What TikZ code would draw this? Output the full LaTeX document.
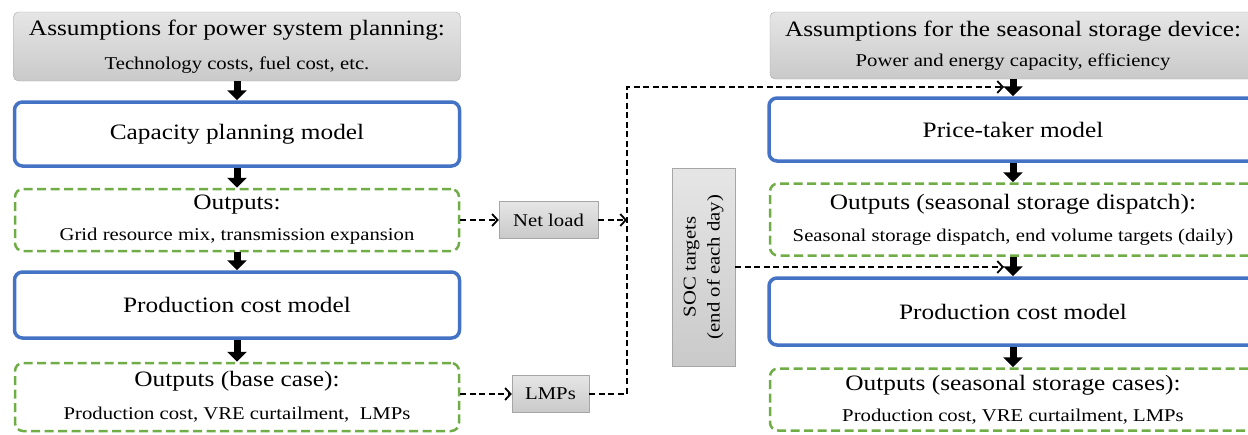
\documentclass[tikz,border=0pt]{standalone}
\usepackage{fontspec}
\setmainfont[FakeStretch=1.15]{Liberation Serif}
\usetikzlibrary{arrows.meta}

\definecolor{planblue}{HTML}{4472C4}
\definecolor{outgreen}{HTML}{70AD47}
\definecolor{boxgray}{HTML}{A6A6A6}

\newcommand{\bigtxt}{\fontsize{22}{26}\selectfont}
\newcommand{\subtxt}{\fontsize{18}{21}\selectfont}
\newcommand{\tagtxt}{\fontsize{18}{24}\selectfont}

\tikzset{
  assume/.style={draw=boxgray, rounded corners=5pt, top color=gray!20, bottom color=gray!42, align=center},
  model/.style={draw=planblue, line width=3.5pt, rounded corners=8pt, fill=white, font=\bigtxt},
  outbox/.style={draw=outgreen, line width=2.5pt, dash pattern=on 9pt off 4.5pt, rounded corners=8pt, align=center},
  tag/.style={draw=boxgray, top color=gray!20, bottom color=gray!42, font=\tagtxt, align=center},
  blk/.style={line width=7pt, -{Triangle[length=10pt,width=19pt]}},
  link/.style={line width=1.8pt, dash pattern=on 6pt off 3.5pt},
  tip/.style={-{Straight Barb[length=5.5pt,width=12pt]}},
}

\begin{document}
\begin{tikzpicture}[x=1pt,y=-1pt]

\useasboundingbox (0,0) rectangle (1248,434);
\clip (0,0) rectangle (1248,434);

% Power system planning
\node[assume, minimum width=447pt, minimum height=69pt] (asl) at (237,46.5)
  {\bigtxt Assumptions for power system planning:\\[16pt]\subtxt Technology costs, fuel cost, etc.};
\node[model, minimum width=445pt, minimum height=64pt] (cap) at (237,134) {Capacity planning model};
\node[outbox, minimum width=444pt, minimum height=62pt] (outl) at (237,220)
  {\bigtxt Outputs:\\[13pt]\subtxt Grid resource mix, transmission expansion};
\node[model, minimum width=445pt, minimum height=66pt] (pcl) at (237,305) {Production cost model};
\node[outbox, minimum width=444pt, minimum height=68pt] (base) at (237,397)
  {\bigtxt Outputs (base case):\\[15pt]\subtxt Production cost, VRE curtailment, \ LMPs};

\draw[blk] (asl) -- (cap);
\draw[blk] (cap) -- (outl);
\draw[blk] (outl) -- (pcl);
\draw[blk] (pcl) -- (base);

% Exchanged data
\node[tag, minimum width=99pt, minimum height=37pt] (net) at (548.5,220) {Net load};
\node[tag, minimum width=77pt, minimum height=37pt] (lmp) at (550.5,394) {LMPs};
\node[tag, rotate=90, minimum width=198pt, minimum height=63pt] (soc) at (703.5,267)
  {SOC targets\\(end of each day)};

\coordinate (jn) at (627,220);
\coordinate (top) at (1004,87);
\coordinate (mid) at (1004,267);

\draw[link, tip] (outl.east) -- (net.west);
\draw[link, tip] (base.east |- lmp) -- (lmp.west);
\draw[link, tip] (net.east) -- (jn);
\draw[link, tip] (lmp.east) -| (jn) |- (top);
\draw[link, tip] (soc.south) -- (mid);

% Seasonal storage device
\begin{scope}[xshift=776pt]

\node[assume, minimum width=486pt, minimum height=67pt] (asr) at (237,45.5)
  {\bigtxt Assumptions for the seasonal storage device:\\[12pt]\subtxt Power and energy capacity, efficiency};
\node[model, minimum width=488pt, minimum height=63pt] (ptm) at (237,129.5) {Price-taker model};
\node[outbox, minimum width=486pt, minimum height=72pt] (disp) at (237,219.5)
  {\bigtxt Outputs (seasonal storage dispatch):\\[14pt]\subtxt Seasonal storage dispatch, end volume targets (daily)};
\node[model, minimum width=488pt, minimum height=67pt] (pcr) at (237,311.5) {Production cost model};
\node[outbox, minimum width=486pt, minimum height=62pt] (cases) at (237,399.5)
  {\bigtxt Outputs (seasonal storage cases):\\[13pt]\subtxt Production cost, VRE curtailment, LMPs};

\draw[blk] (asr) -- (ptm);
\draw[blk] (ptm) -- (disp);
\draw[blk] (disp) -- (pcr);
\draw[blk] (pcr) -- (cases);

\end{scope}

\end{tikzpicture}
\end{document}
